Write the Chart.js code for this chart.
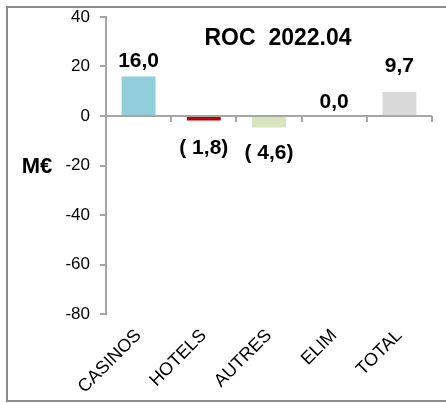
<!DOCTYPE html>
<html>
<head>
<meta charset="utf-8">
<script src="https://cdn.jsdelivr.net/npm/chart.js@4.4.0/dist/chart.umd.min.js"></script>
<style>
  body { margin: 0; background: #fff; }
  #cadre { position: absolute; left: 6px; top: 6px; width: 470px; height: 392px; border: 2px solid #8c8c8c; }
  #graf { position: absolute; left: 0; top: 0; }
</style>
</head>
<body>
<div id="cadre"></div>
<canvas id="graf" width="446" height="403"></canvas>
<script>
// DONNEES
const categories = ['CASINOS', 'HOTELS', 'AUTRES', 'ELIM', 'TOTAL'];
const valeurs = [16.0, -1.8, -4.6, 0.0, 9.7];
const couleurs = ['#92CDDC', '#C00000', '#D7E4BD', '#BFBFBF', '#D9D9D9'];
const graduations = [40, 20, 0, -20, -40, -60, -80];

const gris = '#a6a6a6';
const police = "'Liberation Sans', Arial, sans-serif";

function formatVal(v) {
  const txt = Math.abs(v).toFixed(1).replace('.', ',');
  return v < 0 ? '( ' + txt + ')' : txt;
}

// etiquettes, titre, unite et petits traits de l'axe des categories
const decor = {
  id: 'decor',
  afterDatasetsDraw(chart, args, opts) {
    const c = chart.ctx;
    const xs = chart.scales.x;
    const ys = chart.scales.y;
    const y0 = ys.getPixelForValue(0);
    const n = categories.length;
    const w = (xs.right - xs.left) / n;

    c.save();
    c.strokeStyle = gris;
    c.lineWidth = 2;
    for (let i = 0; i <= n; i++) {
      const x = Math.round(xs.left + i * w);
      c.beginPath();
      c.moveTo(x, y0);
      c.lineTo(x, y0 + 6);
      c.stroke();
    }

    c.fillStyle = '#000';
    c.font = 'bold 21px ' + police;
    c.textAlign = 'center';
    const meta = chart.getDatasetMeta(0);
    meta.data.forEach((bar, i) => {
      const v = valeurs[i];
      const dec = opts.ecarts[i];
      if (v < 0) {
        c.textBaseline = 'top';
        c.fillText(formatVal(v), bar.x, bar.y + dec);
      } else {
        c.textBaseline = 'bottom';
        c.fillText(formatVal(v), bar.x, bar.y - dec);
      }
    });

    c.font = 'bold 23px ' + police;
    c.textBaseline = 'middle';
    c.fillText('ROC  2022.04', 278, 39);

    c.font = 'bold 22px ' + police;
    c.fillText('M€', 37, 167);
    c.restore();
  }
};

new Chart(document.getElementById('graf'), {
  type: 'bar',
  data: {
    labels: categories,
    datasets: [{
      data: valeurs,
      backgroundColor: couleurs,
      borderWidth: 0,
      barPercentage: 0.52,
      categoryPercentage: 1
    }]
  },
  options: {
    responsive: false,
    animation: false,
    layout: { padding: { top: 17, right: 14, bottom: 0, left: 0 } },
    plugins: {
      legend: { display: false },
      tooltip: { enabled: false },
      decor: { ecarts: [5, 17, 15, 3, 15] }
    },
    scales: {
      y: {
        min: -80,
        max: 40,
        afterBuildTicks: (s) => { s.ticks = graduations.map(v => ({ value: v })); },
        afterFit: (s) => {
          s.width = 106;
          s.paddingTop = 8;
          s.paddingBottom = 8;
        },
        border: { color: gris, width: 2 },
        grid: {
          color: (ctx) => ctx.tick && ctx.tick.value === 0 ? gris : 'transparent',
          lineWidth: 2,
          tickColor: gris,
          tickLength: 6
        },
        ticks: {
          color: '#000',
          padding: 10,
          font: { family: police, size: 17 }
        }
      },
      x: {
        afterFit: (s) => { s.height = 89; },
        border: { display: false },
        grid: { display: false, drawTicks: false },
        ticks: {
          color: '#000',
          minRotation: 45,
          maxRotation: 45,
          padding: 11,
          font: { family: police, size: 18 }
        }
      }
    }
  },
  plugins: [decor]
});
</script>
</body>
</html>
